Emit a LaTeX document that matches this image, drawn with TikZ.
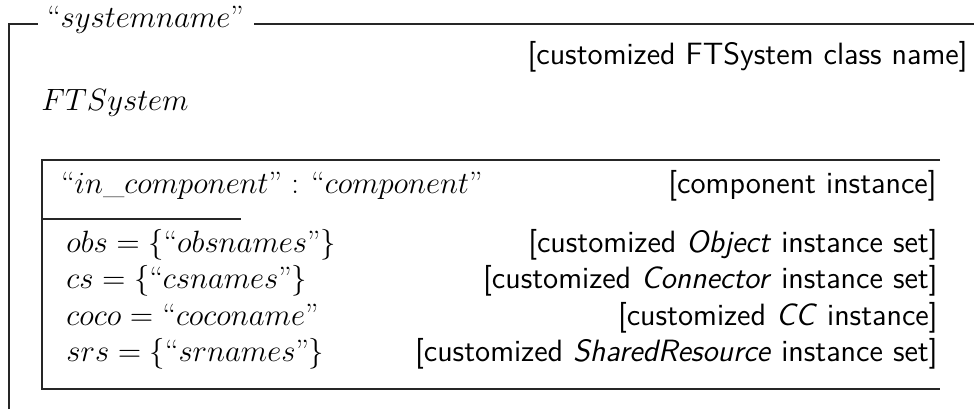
\RequirePackage{fix-cm}
\documentclass[tikz,border=0pt]{standalone}
\begin{document}
\begin{tikzpicture}[x=0.5pt,y=-0.5pt,
    frame/.style={line width=0.65pt,black!85},
    txt/.style={inner sep=0pt,font=\fontsize{15.4}{18.5}\selectfont},
    lft/.style={txt,anchor=base west},
    rgt/.style={txt,anchor=base east}]
\useasboundingbox (0,0) rectangle (974,409);

% outer system frame with its name set into the top edge
\node[lft] (sysname) at (47,27) {``$systemname$''};
\draw[frame] (9,409) -- (9,24) -- (38,24);
\draw[frame] ([xshift=5pt]sysname.east |- 0,24) -- (974,24);
\node[rgt] (clsnote) at (968,64) {\textsf{[customized FTSystem class name]}};
\node[lft] (cls) at (41,110) {$FTSystem$};

% component instance box
\draw[frame] (940,160) -- (42,160) -- (42,389) -- (940,389);
\draw[frame] (42,219) -- (241,219);
\node[lft] (inst) at (61,193) {``$in\_component$'' : ``$component$''};
\node[rgt] (instnote) at (937,193) {\textsf{[component instance]}};

% attribute rows
\node[lft] (obs) at (66,252) {$obs=\{$``$obsnames$''$\}$};
\node[rgt] (obsnote) at (938,252) {\textsf{[customized \textit{Object} instance set]}};
\node[lft] (cs) at (66,288.6) {$cs=\{$``$csnames$''$\}$};
\node[rgt] (csnote) at (938,288.6) {\textsf{[customized \textit{Connector} instance set]}};
\node[lft] (coco) at (66,325.2) {$coco=$ ``$coconame$''};
\node[rgt] (coconote) at (938,325.2) {\textsf{[customized \textit{CC} instance]}};
\node[lft] (srs) at (66,361.8) {$srs=\{$``$srnames$''$\}$};
\node[rgt] (srsnote) at (938,361.8) {\textsf{[customized \textit{SharedResource} instance set]}};
\end{tikzpicture}
\end{document}
